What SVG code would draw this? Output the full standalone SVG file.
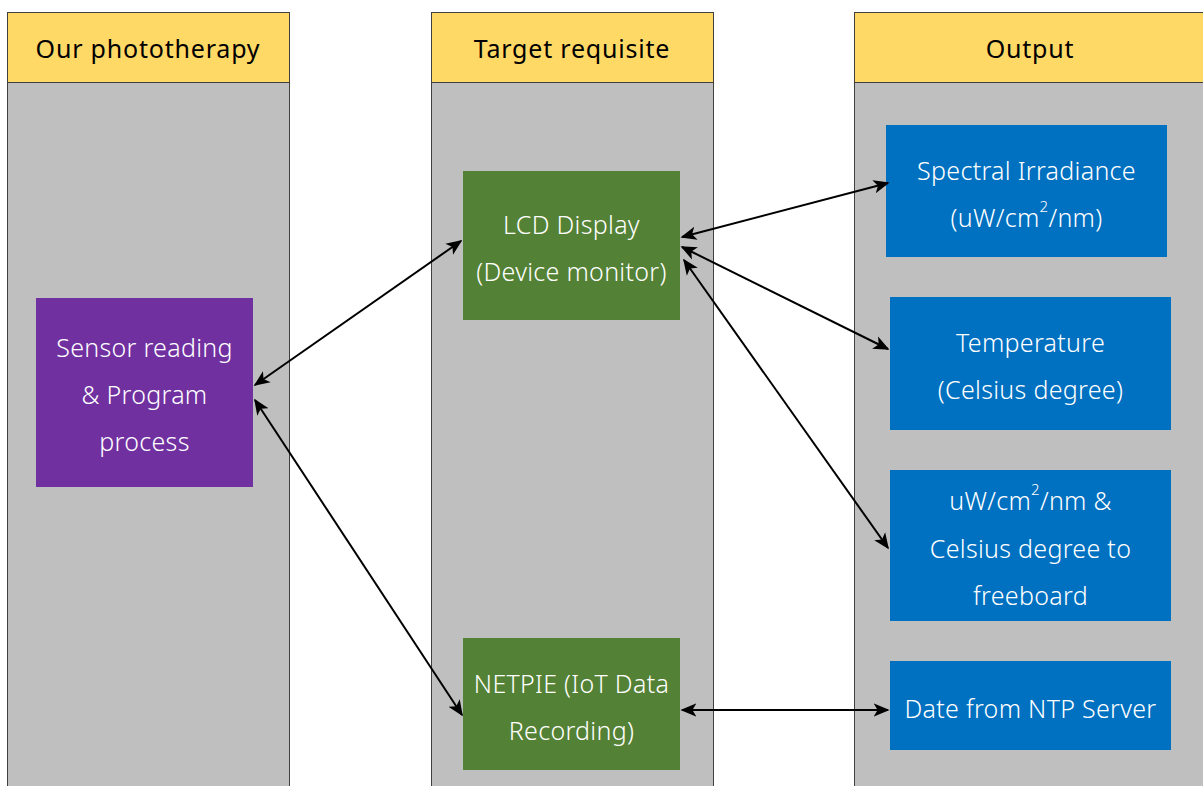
<svg xmlns="http://www.w3.org/2000/svg" width="1203" height="786" viewBox="0 0 1203 786">
<defs>
<style>
.col{fill:#BFBFBF;stroke:#404040;stroke-width:1}
.hdr{fill:#FFD966;stroke:#404040;stroke-width:1}
.ht{font-family:"Noto Sans",sans-serif;font-size:25px;letter-spacing:0.8px;fill:#000;text-anchor:middle}
.nt{font-family:"Noto Sans",sans-serif;font-weight:300;font-size:25px;letter-spacing:0.3px;fill:#fff;text-anchor:middle}
.sup{font-size:15px}
.purple{fill:#7030A0}
.green{fill:#538135}
.blue{fill:#0070C0}
.con{stroke:#000;stroke-width:2;fill:none;marker-start:url(#a);marker-end:url(#a)}
</style>
<marker id="a" viewBox="0 0 10 10" refX="9" refY="5" markerWidth="8" markerHeight="8" orient="auto-start-reverse" markerUnits="strokeWidth">
<path d="M0,0.8 L10,5 L0,9.2 L2.5,5 z" fill="#000"/>
</marker>
</defs>
<rect width="1203" height="786" fill="#fff"/>
<g id="col1"><rect class="col" x="7.5" y="82.5" width="282" height="710"/><rect class="hdr" x="7.5" y="12.5" width="282" height="70"/><text class="ht" x="148" y="58">Our phototherapy</text></g>
<g id="col2"><rect class="col" x="431.5" y="82.5" width="282" height="710"/><rect class="hdr" x="431.5" y="12.5" width="282" height="70"/><text class="ht" x="572" y="58">Target requisite</text></g>
<g id="col3"><rect class="col" x="854.5" y="82.5" width="360" height="710"/><rect class="hdr" x="854.5" y="12.5" width="360" height="70"/><text class="ht" x="1030" y="58">Output</text></g>
<g id="sensor"><rect class="purple" x="36" y="298" width="217" height="189"/><text class="nt" x="144.5" y="357">Sensor reading</text><text class="nt" x="144.5" y="404">&amp; Program</text><text class="nt" x="144.5" y="451">process</text></g>
<g id="lcd"><rect class="green" x="463" y="171" width="217" height="149"/><text class="nt" x="571.5" y="234">LCD Display</text><text class="nt" x="571.5" y="281">(Device monitor)</text></g>
<g id="netpie"><rect class="green" x="463" y="638" width="217" height="132"/><text class="nt" x="571.5" y="693">NETPIE (IoT Data</text><text class="nt" x="571.5" y="740">Recording)</text></g>
<g id="spectral"><rect class="blue" x="886" y="125" width="281" height="132"/><text class="nt" x="1026.5" y="180">Spectral Irradiance</text><text class="nt" x="1026.5" y="227">(uW/cm<tspan class="sup" dy="-15">2</tspan><tspan dy="15">/nm)</tspan></text></g>
<g id="temperature"><rect class="blue" x="890" y="297" width="281" height="133"/><text class="nt" x="1030.5" y="352">Temperature</text><text class="nt" x="1030.5" y="399">(Celsius degree)</text></g>
<g id="freeboard"><rect class="blue" x="890" y="470" width="281" height="151"/><text class="nt" x="1030.5" y="510">uW/cm<tspan class="sup" dy="-15">2</tspan><tspan dy="15">/nm &amp;</tspan></text><text class="nt" x="1030.5" y="558">Celsius degree to</text><text class="nt" x="1030.5" y="605">freeboard</text></g>
<g id="ntp"><rect class="blue" x="890" y="661" width="281" height="89"/><text class="nt" x="1030.5" y="718">Date from NTP Server</text></g>
<g id="connectors">
<line class="con" x1="255" y1="385" x2="461" y2="241"/>
<line class="con" x1="255" y1="400" x2="462" y2="715"/>
<line class="con" x1="682" y1="237" x2="888" y2="183"/>
<line class="con" x1="682" y1="247" x2="888" y2="349"/>
<line class="con" x1="684" y1="260" x2="888" y2="548"/>
<line class="con" x1="682" y1="710" x2="888" y2="710"/>
</g>
</svg>
